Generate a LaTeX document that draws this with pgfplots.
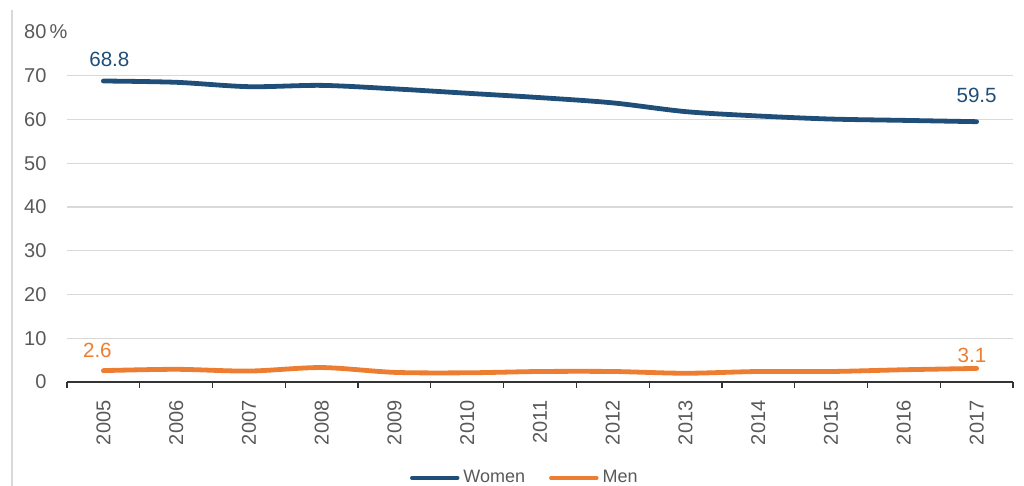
\documentclass[border=0pt]{standalone}
\usepackage{fontspec}
\setmainfont{Liberation Sans}
\usepackage{pgfplots}
\pgfplotsset{compat=1.18}
\usetikzlibrary{calc}
\definecolor{women}{RGB}{31,78,121}
\definecolor{men}{RGB}{237,125,49}
\definecolor{tickgray}{RGB}{89,89,89}
\definecolor{gridgray}{RGB}{217,217,217}
\begin{document}
\begin{tikzpicture}
\begin{axis}[
  scale only axis, width=473pt, height=175pt,
  xmin=-0.5, xmax=12.5, ymin=0, ymax=80,
  /pgf/number format/assume math mode=true,
  axis x line*=bottom, axis y line*=left,
  y axis line style={draw=none},
  x axis line style={draw=black!80, line width=0.6pt},
  xtick={0,...,12},
  xticklabels={2005,2006,2007,2008,2009,2010,2011,2012,2013,2014,2015,2016,2017},
  major x tick style={draw=none},
  minor xtick={-0.5,0.5,...,12.5},
  minor x tick style={draw=black!80, line width=0.6pt},
  minor tick length=3pt,
  tick align=outside,
  xticklabel shift=1.5pt,
  xticklabel style={rotate=90, anchor=east, font=\fontsize{10}{12}\selectfont, text=tickgray},
  ytick={10,20,...,70},
  extra y ticks={0,80},
  extra y tick labels={0,80\rlap{\,\%}},
  extra y tick style={grid=none},
  ytick style={draw=none},
  yticklabel style={font=\fontsize{10}{12}\selectfont, text=tickgray, xshift=-2.5pt},
  ymajorgrids,
  grid style={gridgray, line width=0.6pt},
  clip=false,
  legend style={at={(0.485,-0.274)}, anchor=center, draw=none, fill=none,
    legend columns=2, font=\fontsize{9}{10.8}\selectfont, text=tickgray,
    /tikz/every even column/.append style={column sep=10pt}},
  legend image code/.code={\draw[#1, line width=1.7pt, line cap=round] (0pt,0pt) -- (23pt,0pt);},
]
\addplot[women, line width=2.4pt, smooth, line cap=round] coordinates {
(0,68.8) (1,68.5) (2,67.5) (3,67.8) (4,67.0) (5,66.0) (6,65.0) (7,63.8) (8,61.8) (9,60.8) (10,60.1) (11,59.8) (12,59.5)};
\addlegendentry{Women}
\addplot[men, line width=2.4pt, smooth, line cap=round] coordinates {
(0,2.6) (1,2.9) (2,2.5) (3,3.3) (4,2.2) (5,2.1) (6,2.4) (7,2.4) (8,2.0) (9,2.4) (10,2.4) (11,2.8) (12,3.1)};
\addlegendentry{Men}
\node[women, font=\fontsize{10.3}{12}\selectfont, anchor=south, inner sep=0pt, xshift=3pt, yshift=7pt] at (axis cs:0,68.8) {68.8};
\node[women, font=\fontsize{10.3}{12}\selectfont, anchor=south, inner sep=0pt, yshift=9.3pt] at (axis cs:12,59.5) {59.5};
\node[men, font=\fontsize{10.3}{12}\selectfont, anchor=south, inner sep=0pt, xshift=-3pt, yshift=6.3pt] at (axis cs:0,2.6) {2.6};
\node[men, font=\fontsize{10.3}{12}\selectfont, anchor=south, inner sep=0pt, xshift=-2.3pt, yshift=2.7pt] at (axis cs:12,3.1) {3.1};
\coordinate (sw) at (rel axis cs:0,0);
\coordinate (ne) at (rel axis cs:1,1);
\end{axis}
\pgfresetboundingbox
\path[use as bounding box] ($(sw)+(-33.5pt,-52pt)$) rectangle ($(ne)+(5.5pt,16pt)$);
\draw[gridgray, line width=0.6pt] ($(sw)+(-27.5pt,-52pt)$) -- ($(sw)+(-27.5pt,186pt)$);
\end{tikzpicture}
\end{document}
